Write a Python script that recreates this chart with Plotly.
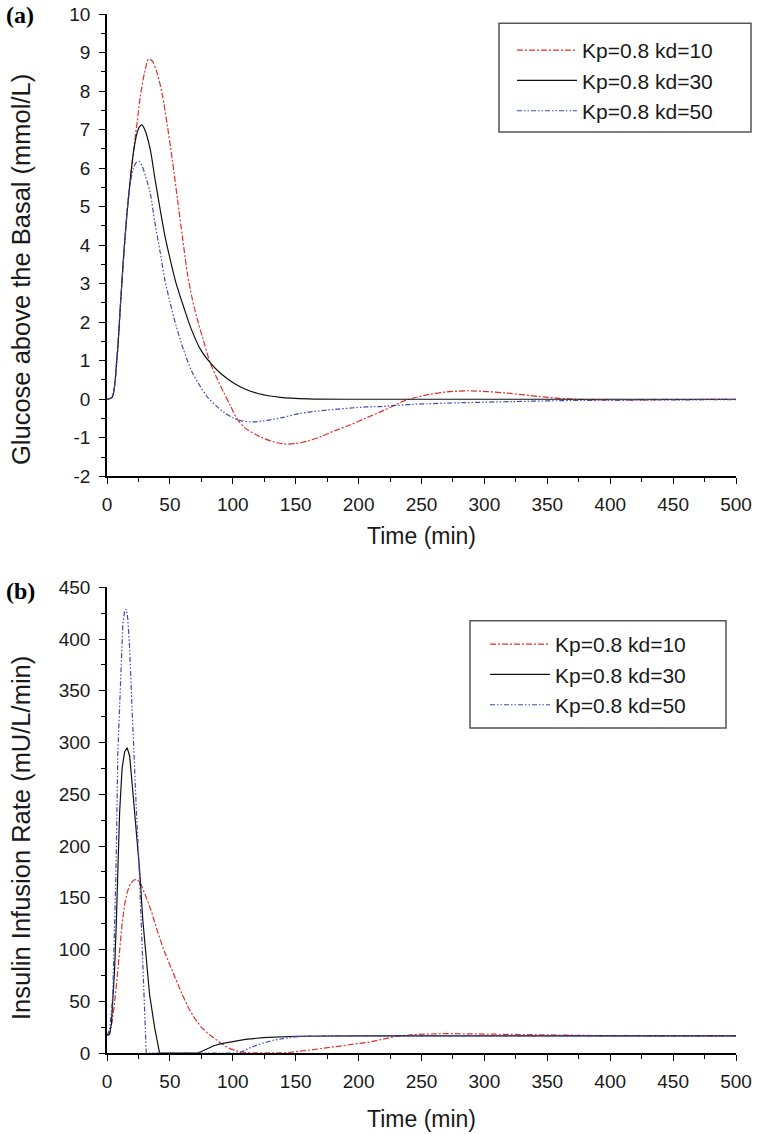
import plotly.graph_objects as go
from plotly.subplots import make_subplots

# ---------------- Panel (a): glucose above basal (mmol/L) ----------------
t_a_kd10 = [0, 4, 8, 10.6, 13.2, 15.9, 18.5, 21.2, 24, 26.5, 30, 33, 36, 40, 44, 48, 52, 56, 60, 64,
            68, 72, 76, 82, 88, 93, 98, 103, 110, 122, 132, 141, 150, 160, 170, 180, 193, 205, 220,
            238, 257, 270, 286, 302, 318, 344, 366, 400, 450, 500]
g_kd10 = [0, 0.05, 1.1, 2.4, 3.7, 4.83, 5.7, 6.48, 7.2, 7.86, 8.5, 8.83, 8.78, 8.45, 7.9, 7.1, 6.2, 5.2,
          4.2, 3.25, 2.57, 2.05, 1.6, 0.95, 0.5, 0.16, -0.16, -0.49, -0.75, -0.98, -1.1, -1.16, -1.15,
          -1.08, -0.97, -0.83, -0.67, -0.5, -0.29, -0.02, 0.13, 0.19, 0.22, 0.2, 0.16, 0.07, 0.01,
          -0.02, -0.01, 0]

t_a_kd30 = [0, 4, 8, 10.6, 13.2, 15.9, 18.5, 21, 23.8, 26, 27.8, 30, 34.4, 38, 42.4, 46, 50.3, 55, 60.9,
            67, 74.2, 82, 90, 100.6, 110, 120, 137.8, 160, 200, 250, 300, 400, 500]
g_kd30 = [0, 0.05, 1.1, 2.4, 3.7, 4.83, 5.7, 6.4, 6.9, 7.08, 7.12, 7.0, 6.48, 5.75, 4.9, 4.25, 3.62, 3.0,
          2.4, 1.82, 1.3, 0.95, 0.68, 0.42, 0.26, 0.15, 0.05, 0.01, 0, 0, 0, 0, 0]

t_a_kd50 = [0, 4, 8, 10.6, 13.2, 15.9, 18.5, 21, 23.5, 25.7, 28, 31, 34.4, 38, 42.4, 46, 50.3, 55, 60.9,
            67, 74.2, 80, 87.4, 93, 100.6, 107, 114, 125, 140, 153, 175, 206, 217, 244, 283, 323, 376,
            430, 500]
g_kd50 = [0, 0.05, 1.1, 2.4, 3.7, 4.83, 5.6, 6.0, 6.15, 6.17, 6.05, 5.75, 5.35, 4.6, 3.79, 3.1, 2.49,
          1.9, 1.28, 0.75, 0.33, 0.05, -0.19, -0.34, -0.49, -0.56, -0.59, -0.56, -0.47, -0.37, -0.28,
          -0.2, -0.19, -0.13, -0.09, -0.06, -0.03, -0.02, -0.01]

# ---------------- Panel (b): insulin infusion rate (mU/L/min) ----------------
t_b_kd10 = [0, 2, 4, 6, 8, 10, 12, 14, 16, 18, 21, 24, 27, 30, 35, 40, 45, 50, 55, 60, 65, 70, 75, 80,
            90, 97.5, 104, 110.8, 124, 142.6, 163.7, 185, 208.8, 230, 246, 270, 302, 330, 360, 400,
            450, 500]
u_kd10 = [17, 19, 30, 48, 72, 100, 125, 143, 155, 162, 167, 168, 163, 154, 138, 118, 100, 85, 70, 56,
          43, 33, 25, 19, 10, 4.2, 1.8, 0.3, 0, 0.3, 3.2, 6.4, 10.6, 16.2, 18, 18.8, 18.2, 17.5, 17.0,
          16.7, 16.6, 16.6]

t_b_kd30 = [0, 2, 3.5, 4.6, 6, 7.3, 8.6, 10, 12, 14, 16, 18, 20, 22, 24, 25.9, 28.5, 31.2, 33.8, 37.8,
            41.8, 50, 60, 72, 75, 80, 85, 90, 97.5, 110, 124, 150, 200, 300, 400, 500]
u_kd30 = [17, 18, 28, 48, 80, 122, 186, 232, 275, 291, 295, 287, 260, 232, 205, 177, 128, 90, 57, 25,
          0, 0, 0, 0, 1.5, 4.5, 7, 8.8, 10.6, 13.2, 14.9, 16.2, 16.6, 16.6, 16.6, 16.6]

t_b_kd50 = [0, 2, 3.5, 4.6, 6, 7.3, 8.6, 9.9, 11.3, 12.6, 14, 15.3, 16.5, 17.9, 19.3, 20.5, 21.9, 23.5,
            25.3, 27.2, 28.5, 29.8, 31.2, 50, 80, 105, 110, 118.7, 132, 145, 156, 180, 250, 500]
u_kd50 = [17, 22, 40, 57, 122, 186, 290, 335, 373, 415, 427, 429, 420, 393, 351, 312, 270, 230, 186,
          122, 73, 32, 0, 0, 0, 0, 3, 7.5, 12.3, 14.9, 16.2, 16.6, 16.6, 16.6]

series_names = ["Kp=0.8 kd=10", "Kp=0.8 kd=30", "Kp=0.8 kd=50"]
x_ticks = [0, 50, 100, 150, 200, 250, 300, 350, 400, 450, 500]
ya_ticks = list(range(-2, 11))
ya_labels = ["-2", "-1", "0", "1", "2", "3", "4", "5", "6", "7", "8", "9", "10"]
yb_ticks = list(range(0, 451, 50))
ya_title = "Glucose above the Basal (mmol/L)"
yb_title = "Insulin Infusion Rate (mU/L/min)"
x_title = "Time (min)"

# ---------------- styling ----------------
W, H = 763, 1134
ML, MR, MT, MB = 107, 27, 14, 81
PW, PH = W - ML - MR, H - MT - MB

def px_x(px):
    return (px - ML) / PW

def px_y(py):
    return (H - MB - py) / PH

RED = "#e0302a"
BLACK = "#111111"
BLUE = "#3a4cb5"
styles = [
    dict(color=RED, width=1.2, dash="6px,2px,2px,2px"),
    dict(color=BLACK, width=1.2),
    dict(color=BLUE, width=1.2, dash="5px,2px,1.5px,2px,1.5px,2px"),
]
FONT = "Liberation Sans, Arial, Helvetica, sans-serif"
TXT = "#1a1a1a"

fig = make_subplots(rows=2, cols=1)
fig.update_layout(
    yaxis=dict(domain=[px_y(476.3), 1.0]),
    yaxis2=dict(domain=[0.0, px_y(587.3)]),
)

a_data = [(t_a_kd10, g_kd10), (t_a_kd30, g_kd30), (t_a_kd50, g_kd50)]
b_data = [(t_b_kd10, u_kd10), (t_b_kd30, u_kd30), (t_b_kd50, u_kd50)]

for i, (tx, vy) in enumerate(a_data):
    fig.add_trace(go.Scatter(x=tx, y=vy, mode="lines", name=series_names[i],
                             line=dict(**styles[i], shape="spline", smoothing=0.8),
                             legend="legend"), row=1, col=1)
for i, (tx, vy) in enumerate(b_data):
    fig.add_trace(go.Scatter(x=tx, y=vy, mode="lines", name=series_names[i],
                             line=dict(**styles[i]),
                             legend="legend2"), row=2, col=1)

axis_common = dict(
    showline=True, linecolor="black", linewidth=1.6, mirror=False,
    showgrid=False, zeroline=False, automargin=False,
    ticks="outside", ticklen=6, tickwidth=1.4, tickcolor="black",
    tickfont=dict(family=FONT, size=19, color=TXT),
)

fig.update_xaxes(**axis_common, range=[0, 500], tickvals=x_ticks, ticklabelstandoff=4,
                 minor=dict(ticks="outside", ticklen=4, tickwidth=1.2, tickcolor="black", dtick=25))
fig.update_xaxes(title=dict(text=x_title, font=dict(family=FONT, size=23, color=TXT), standoff=14),
                 row=1, col=1)
fig.update_xaxes(title=dict(text=x_title, font=dict(family=FONT, size=23, color=TXT), standoff=20),
                 row=2, col=1)
fig.update_yaxes(**axis_common, ticklabelstandoff=5)
fig.update_yaxes(range=[-2, 10], tickvals=ya_ticks, ticktext=ya_labels,
                 minor=dict(ticks="outside", ticklen=4, tickwidth=1.2, tickcolor="black", dtick=0.5),
                 row=1, col=1)
fig.update_yaxes(range=[0, 450], tickvals=yb_ticks,
                 minor=dict(ticks="outside", ticklen=4, tickwidth=1.2, tickcolor="black", dtick=25),
                 row=2, col=1)

legend_common = dict(
    bgcolor="rgba(0,0,0,0)", borderwidth=0, font=dict(family=FONT, size=21, color=TXT),
    xanchor="left", yanchor="top", itemwidth=60, tracegroupgap=0,
)

ytitle_font = dict(family=FONT, size=25.5, color=TXT)
fig.update_layout(
    width=W, height=H,
    margin=dict(l=ML, r=MR, t=MT, b=MB),
    paper_bgcolor="white", plot_bgcolor="white",
    showlegend=True,
    legend=dict(**legend_common, x=px_x(512), y=px_y(30)),
    legend2=dict(**legend_common, x=px_x(485), y=px_y(624)),
    shapes=[
        dict(type="rect", xref="paper", yref="paper", x0=px_x(499), x1=px_x(751),
             y0=px_y(132), y1=px_y(23.3), line=dict(color="#555", width=1.5)),
        dict(type="rect", xref="paper", yref="paper", x0=px_x(470), x1=px_x(726),
             y0=px_y(728), y1=px_y(620.7), line=dict(color="#555", width=1.5)),
    ],
    annotations=[
        # y-axis titles (placed slightly below the axis centre, as in the original)
        dict(text=ya_title, xref="paper", yref="paper", x=px_x(21), y=px_y(270),
             xanchor="center", yanchor="middle", textangle=-90, showarrow=False, font=ytitle_font),
        dict(text=yb_title, xref="paper", yref="paper", x=px_x(21), y=px_y(838),
             xanchor="center", yanchor="middle", textangle=-90, showarrow=False, font=ytitle_font),
        # panel labels
        dict(text="<b>(a)</b>", xref="paper", yref="paper", x=px_x(4), y=px_y(15),
             xanchor="left", yanchor="middle", showarrow=False,
             font=dict(family="Liberation Serif, Times New Roman, serif", size=24, color="black")),
        dict(text="<b>(b)</b>", xref="paper", yref="paper", x=px_x(4), y=px_y(591),
             xanchor="left", yanchor="middle", showarrow=False,
             font=dict(family="Liberation Serif, Times New Roman, serif", size=24, color="black")),
    ],
)

fig.write_html("out.html", config={"displayModeBar": False},
               post_script="document.body.style.margin='0px';")
